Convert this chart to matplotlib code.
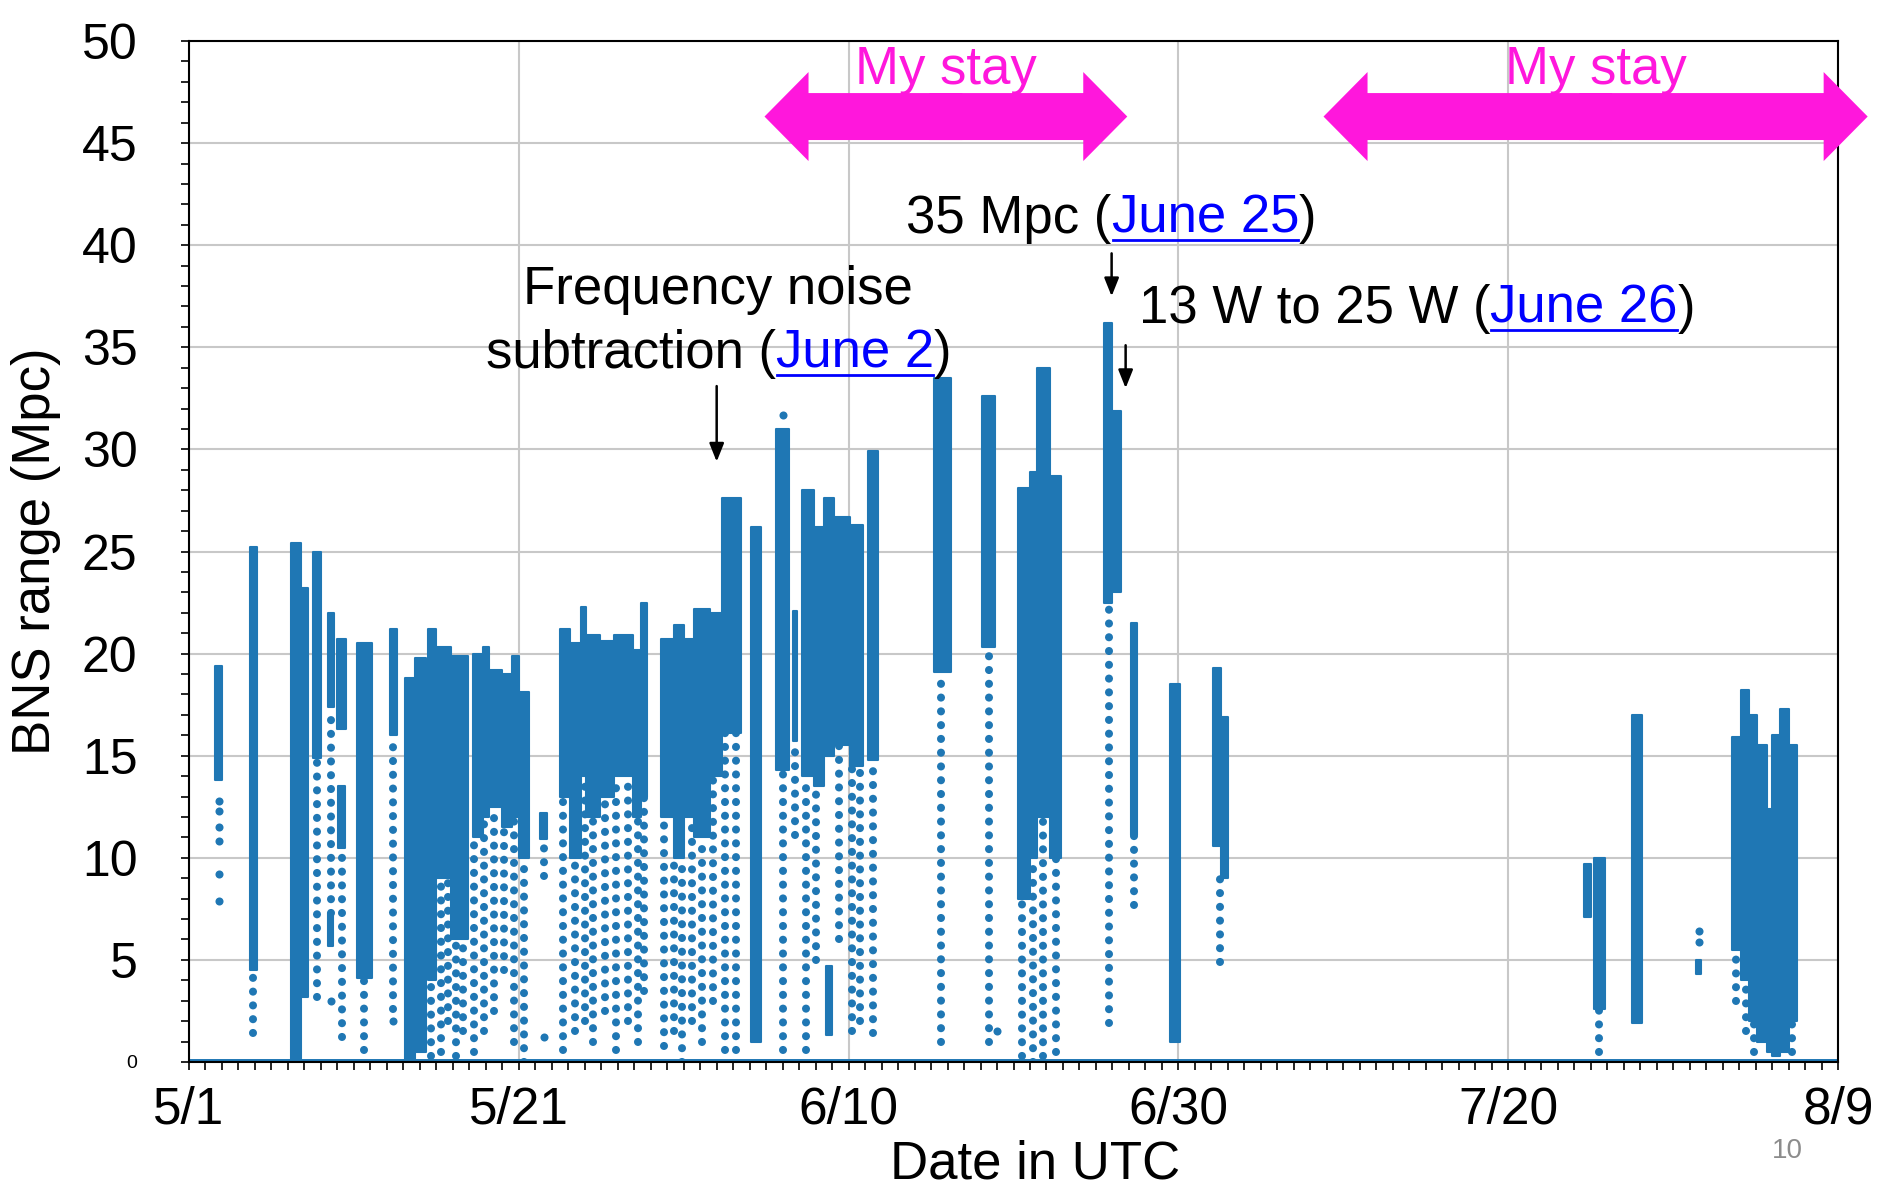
import numpy as np
import matplotlib
matplotlib.use('Agg')
import matplotlib.pyplot as plt
from matplotlib.patches import FancyArrow
from matplotlib.ticker import MultipleLocator

plt.rcParams['font.family'] = ['Liberation Sans', 'DejaVu Sans']

BLUE = '#1f77b4'
PINK = '#ff17dc'
LINK = '#0000ff'
FS = 38

# day 0 = 5/1 UTC
date_ticks = [0, 20, 40, 60, 80, 100]
date_labels = ['5/1', '5/21', '6/10', '6/30', '7/20', '8/9']
range_ticks = [0, 5, 10, 15, 20, 25, 30, 35, 40, 45, 50]

# dense part of each lock stretch: start day, end day, top and bottom of the band (Mpc)
blk_start = [1.6, 3.7, 6.2, 6.8, 7.5, 8.4, 8.45, 9.0, 9.05, 10.2, 12.2, 13.1, 13.7,
             14.5, 15.0, 15.9, 17.2, 17.8, 18.2, 19.0, 19.6, 20.0, 21.3,
             22.5, 23.1, 23.8, 24.1, 24.9, 25.8, 26.9, 27.4,
             28.6, 29.4, 30.0, 30.6, 31.6, 32.3, 34.1, 35.6, 36.6,
             37.2, 37.9, 38.5, 39.1, 40.1, 38.6, 41.2, 45.2, 48.1,
             50.3, 51.0, 51.4, 52.2, 55.5, 56.0, 57.1, 59.5, 62.1, 62.6,
             84.6, 85.2, 87.5, 91.4, 93.6, 94.1, 94.6, 95.1, 95.7, 96.0, 96.5, 97.0]
blk_end = [2.0, 4.1, 6.8, 7.2, 8.0, 8.8, 8.75, 9.5, 9.45, 11.1, 12.6, 13.7, 14.4,
           15.0, 15.9, 16.9, 17.8, 18.2, 19.0, 19.6, 20.0, 20.6, 21.7,
           23.1, 23.8, 24.1, 24.9, 25.8, 26.9, 27.4, 27.8,
           29.4, 30.0, 30.6, 31.6, 32.3, 33.5, 34.7, 36.4, 36.9,
           37.9, 38.5, 39.1, 40.1, 40.9, 39.0, 41.8, 46.2, 48.9,
           51.0, 51.4, 52.2, 52.9, 56.0, 56.5, 57.5, 60.1, 62.6, 63.0,
           85.0, 85.9, 88.1, 91.7, 94.1, 94.6, 95.1, 95.7, 96.0, 96.5, 97.0, 97.5]
blk_top = [19.4, 25.2, 25.4, 23.2, 25.0, 22.0, 7.3, 20.7, 13.5, 20.5, 21.2, 18.8, 19.8,
           21.2, 20.3, 19.9, 20.0, 20.3, 19.2, 19.0, 19.9, 18.1, 12.2,
           21.2, 20.5, 22.3, 20.9, 20.6, 20.9, 20.2, 22.5,
           20.7, 21.4, 20.7, 22.2, 22.0, 27.6, 26.2, 31.0, 22.1,
           28.0, 26.2, 27.6, 26.7, 26.3, 4.7, 29.9, 33.5, 32.6,
           28.1, 28.9, 34.0, 28.7, 36.2, 31.9, 21.5, 18.5, 19.3, 16.9,
           9.7, 10.0, 17.0, 5.0, 15.9, 18.2, 17.0, 15.5, 12.4, 16.0, 17.3, 15.5]
blk_low = [13.8, 4.5, 0.0, 3.2, 14.9, 17.4, 5.7, 16.3, 10.5, 4.1, 16.0, 0.0, 0.5,
           4.0, 9.0, 6.0, 11.0, 12.0, 12.5, 11.5, 12.0, 10.0, 10.9,
           13.0, 10.0, 14.0, 12.0, 13.0, 14.0, 12.0, 13.0,
           12.0, 10.0, 12.0, 11.0, 14.0, 16.1, 1.0, 14.3, 15.7,
           14.0, 13.5, 15.0, 15.5, 14.5, 1.3, 14.8, 19.1, 20.3,
           8.0, 10.0, 12.0, 10.0, 22.5, 23.0, 11.1, 1.0, 10.6, 9.0,
           7.1, 2.6, 1.9, 4.3, 5.5, 4.0, 2.0, 1.0, 0.5, 0.3, 0.5, 2.0]

# sparse tails below the dense bands: day, upper and lower end (Mpc)
tail_day = [3.9, 7.75, 8.6, 9.25, 10.6, 12.4,
            14.7, 15.3, 15.7, 16.2, 16.6,
            17.3, 17.9, 18.5, 19.1, 19.7, 20.3, 21.5,
            22.7, 23.4, 24.0, 24.5, 25.2, 25.9, 26.6, 27.2, 27.6,
            28.8, 29.4, 29.9, 30.5, 31.1, 31.8, 32.5, 33.2,
            36.0, 36.75, 37.4, 38.0, 39.4, 40.2, 40.7, 41.5, 45.6, 48.5,
            50.5, 51.2, 51.8, 52.6, 55.8, 57.3, 62.5,
            85.5, 93.8, 94.4, 94.9, 97.2]
tail_top = [4.5, 14.9, 17.4, 10.5, 4.1, 16.0,
            4.0, 9.0, 9.0, 6.0, 6.0,
            11.0, 12.0, 12.5, 11.5, 12.0, 10.0, 10.9,
            13.0, 10.0, 14.0, 12.0, 13.0, 14.0, 14.0, 12.0, 13.0,
            12.0, 10.0, 10.0, 12.0, 11.0, 14.0, 16.1, 16.1,
            14.3, 15.7, 14.0, 13.5, 15.5, 14.5, 14.5, 14.8, 19.1, 20.3,
            8.0, 10.0, 12.0, 10.0, 22.5, 11.1, 9.0,
            2.6, 5.5, 4.0, 2.0, 2.0]
tail_low = [1.4, 3.2, 7.3, 1.2, 0.6, 2.6,
            0.3, 0.5, 2.0, 0.3, 1.5,
            0.5, 1.5, 2.5, 4.5, 1.0, 0.0, 9.1,
            0.6, 1.5, 2.0, 1.0, 2.5, 0.6, 2.0, 1.0, 3.5,
            0.8, 1.5, 0.0, 2.0, 1.0, 3.0, 0.6, 0.6,
            0.6, 11.1, 0.6, 5.0, 6.0, 1.5, 2.0, 1.4, 1.0, 1.0,
            0.3, 0.0, 0.3, 0.5, 1.9, 7.7, 4.9,
            0.5, 3.0, 1.5, 0.5, 0.5]

# isolated points
pt_day = [1.8, 1.8, 1.8, 1.8, 1.8, 1.8, 21.5, 91.55, 91.55, 36.0, 49.0, 12.4, 8.6]
pt_val = [12.8, 12.3, 11.5, 10.8, 9.2, 7.9, 1.2, 6.4, 5.9, 31.7, 1.5, 2.0, 3.0]

# range is zero whenever the detector is unlocked
zero_days = [0, 100]
zero_vals = [0, 0]

# "My stay" periods (days)
stay_start = [34.9, 68.8]
stay_end = [56.9, 101.8]

fig = plt.figure(figsize=(18.8, 11.86), dpi=100)
ax = fig.add_axes([189 / 1880, 124 / 1186, 1649 / 1880, 1021 / 1186])

ax.plot(zero_days, zero_vals, color=BLUE, lw=5, zorder=2)
ax.bar(blk_start, np.subtract(blk_top, blk_low), width=np.subtract(blk_end, blk_start),
       bottom=blk_low, align='edge', color=BLUE, edgecolor=BLUE, linewidth=1.5,
       joinstyle='round', zorder=2)
tails = ax.vlines(tail_day, tail_low, tail_top, colors=BLUE, linewidth=5.8,
                  linestyles=[(0, (0.01, 1.7))], zorder=2)
tails.set_capstyle('round')
ax.plot(pt_day, pt_val, 'o', ms=5.8, color=BLUE, mec='none', zorder=2)

ax.set_xlim(0, 100)
ax.set_ylim(0, 50)
ax.set_xticks(date_ticks)
ax.set_xticklabels(date_labels, fontsize=37)
ax.set_yticks(range_ticks)
ax.set_yticklabels([str(v) for v in range_ticks], fontsize=36)
ax.get_yticklabels()[0].set_fontsize(14)
ax.xaxis.set_minor_locator(MultipleLocator(1))
ax.yaxis.set_minor_locator(MultipleLocator(1))
ax.tick_params(which='both', direction='out', length=6, width=1.2)
ax.tick_params(axis='x', which='major', pad=11)
ax.tick_params(axis='y', which='major', pad=31)
ax.grid(True, which='major', color='#c8c8c8', lw=1.5)
ax.set_axisbelow(True)
for s in ax.spines.values():
    s.set_linewidth(1.5)
    s.set_zorder(3)

ax.set_xlabel('Date in UTC', fontsize=FS)
ax.xaxis.set_label_coords(0.513, -0.1)
ax.xaxis.label.set_va('center')
ax.set_ylabel('BNS range (Mpc)', fontsize=FS)
ax.yaxis.set_label_coords(-0.0928, 0.5)
ax.yaxis.label.set_va('center')

# "My stay" double arrows (two halves overlapping in the middle)
for s, e in zip(stay_start, stay_end):
    mid = (s + e) / 2
    for end, back in ((s, 1.0), (e, -1.0)):
        ax.add_patch(FancyArrow(mid + back, 46.3, end - mid - back, 0, width=2.3,
                                head_width=4.36, head_length=2.67,
                                length_includes_head=True, color=PINK, lw=0,
                                clip_on=False, zorder=4))
    ax.text(mid, 47.9, 'My stay', color=PINK, fontsize=FS, ha='center',
            va='baseline', zorder=5)


def rich(x, y, parts, ha='left'):
    texts = [ax.text(x, y, s, color=c, fontsize=FS, va='baseline', zorder=5)
             for s, c in parts]
    fig.canvas.draw()
    r = fig.canvas.get_renderer()
    widths = [t.get_window_extent(r).width for t in texts]
    x0, y0 = ax.transData.transform((x, y))
    if ha == 'center':
        x0 -= sum(widths) / 2
    inv = ax.transData.inverted()
    for t, w in zip(texts, widths):
        t.set_position(inv.transform((x0, y0)))
        if t.get_color() == LINK:
            p1 = inv.transform((x0 + 1, y0 - 7))
            p2 = inv.transform((x0 + w - 1, y0 - 7))
            ax.plot([p1[0], p2[0]], [p1[1], p2[1]], color=LINK, lw=2,
                    clip_on=False, zorder=5)
        x0 += w


def pointer(x, y0, y1):
    ax.annotate('', xy=(x, y1), xytext=(x, y0),
                arrowprops=dict(arrowstyle='-|>,head_length=0.55,head_width=0.22',
                                mutation_scale=20, color='k', lw=1.8,
                                shrinkA=0, shrinkB=0), zorder=5)


ax.text(32.1, 37.1, 'Frequency noise', fontsize=FS, ha='center', va='baseline', zorder=5)
rich(32.1, 34.0, [('subtraction (', 'k'), ('June 2', LINK), (')', 'k')], ha='center')
pointer(32.0, 33.1, 29.4)

rich(43.5, 40.6, [('35 Mpc (', 'k'), ('June 25', LINK), (')', 'k')])
pointer(55.95, 39.6, 37.5)

rich(57.6, 36.2, [('13 W to 25 W (', 'k'), ('June 26', LINK), (')', 'k')])
pointer(56.8, 35.1, 33.0)

fig.text(1787 / 1880, 1 - 1151 / 1186, '10', color='#8c8c8c', fontsize=20,
         ha='center', va='center')

fig.savefig('out.png', dpi=100)
